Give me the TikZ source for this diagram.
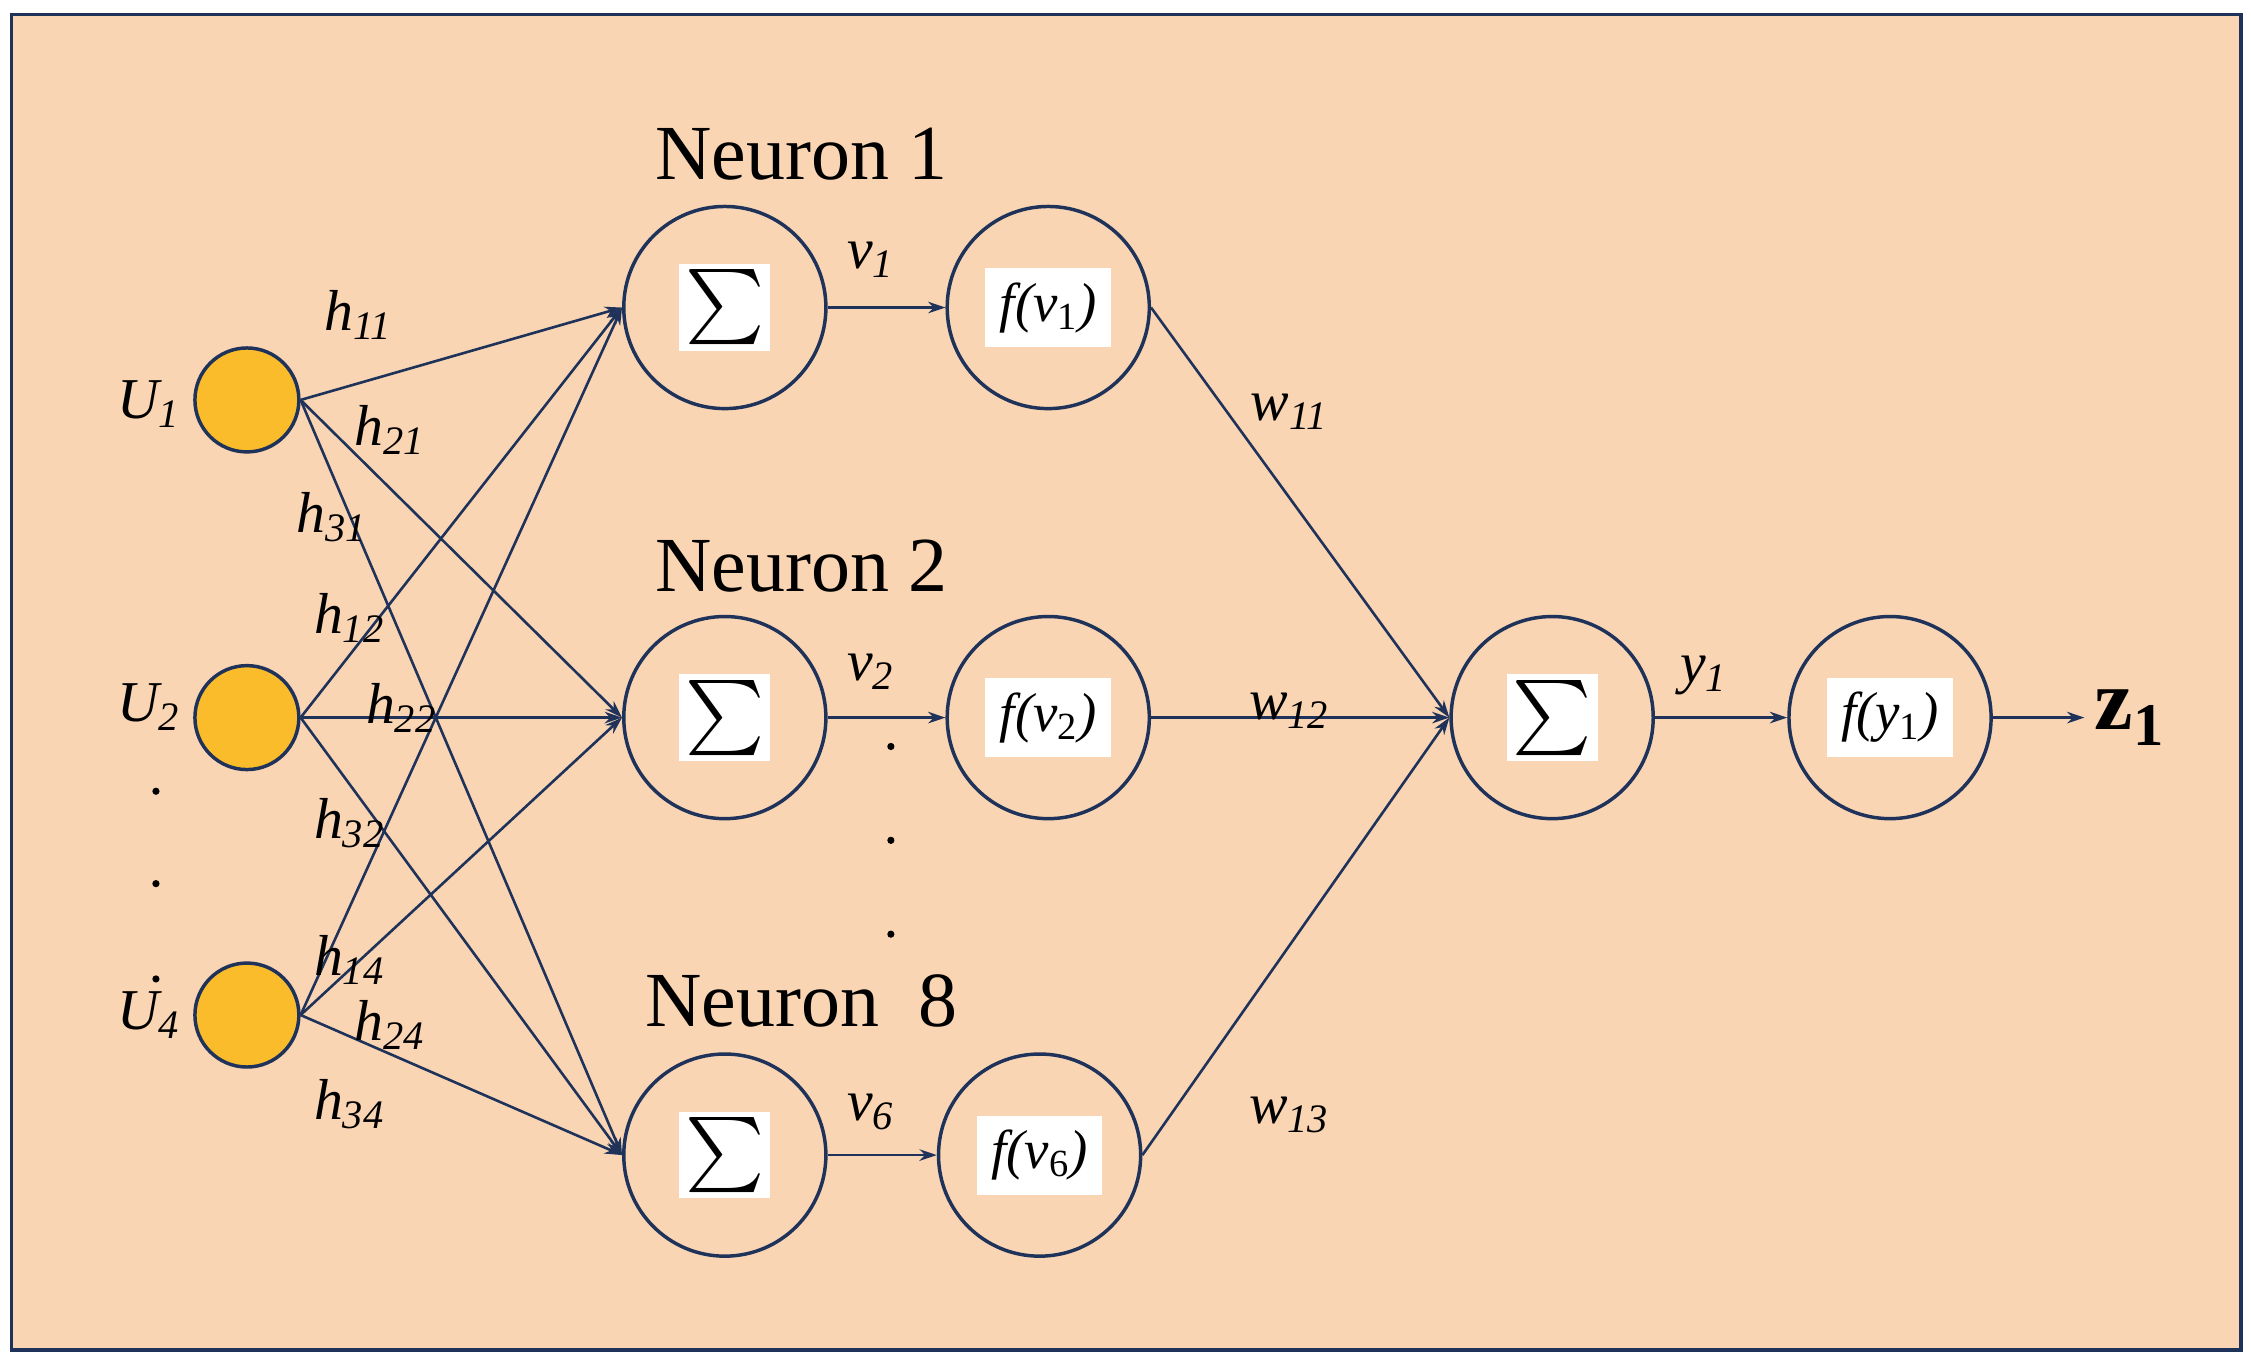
\documentclass[tikz,border=0pt]{standalone}
\usepackage{fontspec}
\setmainfont{Liberation Serif}
\usetikzlibrary{arrows.meta}
\definecolor{ln}{RGB}{30,50,90}
\definecolor{yl}{RGB}{251,188,44}
\begin{document}
\begin{tikzpicture}[x=0.5pt,y=-0.5pt,
 dk/.style={draw=ln, line width=1.2pt},
 inp/.style={circle,dk,fill=yl,minimum size=72pt*0.5,inner sep=0},
 neu/.style={circle,dk,minimum size=140pt*0.5,inner sep=0},
 conn/.style={draw=ln,line width=0.9pt,-{Stealth[length=6pt,width=4pt]}},
 lab/.style={font=\fontsize{20}{20}\selectfont\itshape},
 big/.style={font=\fontsize{27}{27}\selectfont},
 fb/.style={fill=white,inner sep=5pt,font=\fontsize{19}{19}\selectfont\itshape},
 sb/.style={fill=white,inner sep=2pt}]
\path[use as bounding box] (0,0) rectangle (1559,945);
\draw[dk,fill={rgb,255:red,249;green,213;blue,180}] (8,10) rectangle (1552,935);
\node[inp] (u1) at (171,277) {};
\node[inp] (u2) at (171,497) {};
\node[inp] (u4) at (171,703) {};
\newcommand\bigsum{\scalebox{2.6}{$\sum$}}
\node[neu] (s1) at (502,213) {}; \node[sb] at (s1) {\bigsum};
\node[neu] (s2) at (502,497) {}; \node[sb] at (s2) {\bigsum};
\node[neu] (s8) at (502,800) {}; \node[sb] at (s8) {\bigsum};
\node[neu] (f1) at (726,213) {}; \node[fb] at (f1) {f(v\textsubscript{\upshape 1})};
\node[neu] (f2) at (726,497) {}; \node[fb] at (f2) {f(v\textsubscript{\upshape 2})};
\node[neu] (f8) at (720,800) {}; \node[fb] at (f8) {f(v\textsubscript{\upshape 6})};
\node[neu] (so) at (1075,497) {}; \node[sb] at (so) {\bigsum};
\node[neu] (fo) at (1309,497) {}; \node[fb] at (fo) {f(y\textsubscript{\upshape 1})};
\node[font=\fontsize{30}{30}\selectfont\bfseries] (z) at (1475,497) {z\textsubscript{1}};
\foreach \u in {u1,u2,u4}\foreach \s in {s1,s2,s8}
  \draw[conn] (\u.east) -- (\s.west);
\draw[conn] (s1) -- (f1); \draw[conn] (s2) -- (f2); \draw[conn] (s8) -- (f8);
\foreach \f in {f1,f2,f8} \draw[conn] (\f.east) -- (so.west);
\draw[conn] (so) -- (fo); \draw[conn] (fo) -- (z);
\node[big] at (555,107) {Neuron 1};
\node[big] at (555,392) {Neuron 2};
\node[big] at (555,693) {Neuron\ \ 8};
\foreach \t/\x/\y in {h\textsubscript{11}/248/218,h\textsubscript{21}/270/298,h\textsubscript{31}/230/358,
 h\textsubscript{12}/242/428,h\textsubscript{22}/278/490,h\textsubscript{32}/242/570,
 h\textsubscript{14}/242/665,h\textsubscript{24}/270/710,h\textsubscript{34}/242/765,
 v\textsubscript{1}/603/180,v\textsubscript{2}/603/465,v\textsubscript{6}/603/770,
 w\textsubscript{11}/893/285,w\textsubscript{12}/893/492,w\textsubscript{13}/893/772,
 y\textsubscript{1}/1180/468,U\textsubscript{1}/103/280,U\textsubscript{2}/103/490,U\textsubscript{4}/103/703}
 \node[lab] at (\x,\y) {\t};
\foreach \y in {517,582,647} \fill (617,\y) circle (2.5);
\foreach \y in {548,612,678} \fill (108,\y) circle (2.5);
\end{tikzpicture}
\end{document}
